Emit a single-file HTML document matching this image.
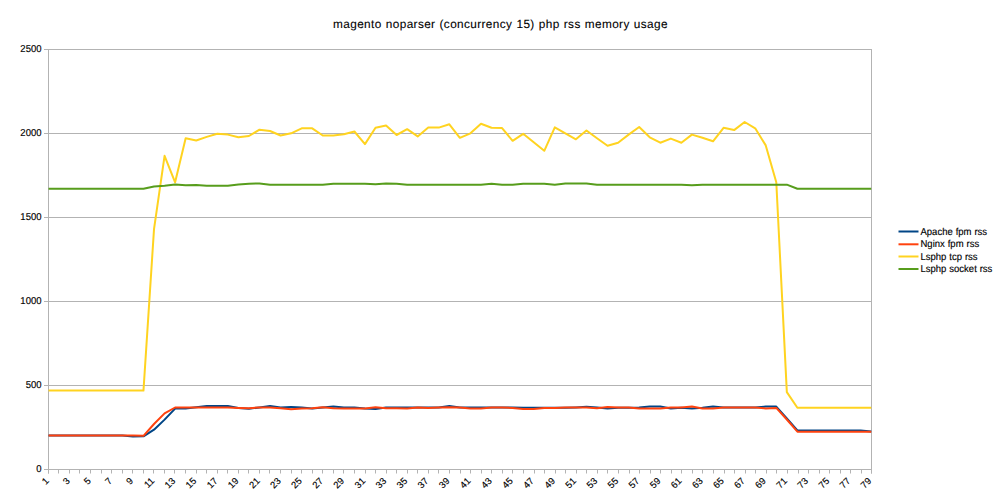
<!DOCTYPE html>
<html><head><meta charset="utf-8"><style>
html,body{margin:0;padding:0;background:#fff;width:1000px;height:500px;overflow:hidden}
svg{display:block}
text{font-family:"Liberation Sans",sans-serif;fill:#000;stroke:#000;stroke-width:0.15px}
</style></head><body>
<svg width="1000" height="500" viewBox="0 0 1000 500">
<rect width="1000" height="500" fill="#fff"/>
<text x="500.5" y="28" font-size="11.8" letter-spacing="0.38" word-spacing="0.5" text-anchor="middle" text-rendering="geometricPrecision" style="stroke-width:0.1px">magento noparser (concurrency 15) php rss memory usage</text>
<g stroke="#b3b3b3" stroke-width="1" fill="none">
<line x1="44" y1="469.5" x2="871.5" y2="469.5" /><line x1="44" y1="385.5" x2="871.5" y2="385.5" /><line x1="44" y1="301.5" x2="871.5" y2="301.5" /><line x1="44" y1="217.5" x2="871.5" y2="217.5" /><line x1="44" y1="133.5" x2="871.5" y2="133.5" /><line x1="44" y1="49.5" x2="871.5" y2="49.5" />
<line x1="48.5" y1="49" x2="48.5" y2="473.5" />
<line x1="871.5" y1="49" x2="871.5" y2="473.5" />
<line x1="48.5" y1="469.5" x2="48.5" y2="473.5" /><line x1="58.5" y1="469.5" x2="58.5" y2="473.5" /><line x1="69.5" y1="469.5" x2="69.5" y2="473.5" /><line x1="79.5" y1="469.5" x2="79.5" y2="473.5" /><line x1="90.5" y1="469.5" x2="90.5" y2="473.5" /><line x1="101.5" y1="469.5" x2="101.5" y2="473.5" /><line x1="111.5" y1="469.5" x2="111.5" y2="473.5" /><line x1="122.5" y1="469.5" x2="122.5" y2="473.5" /><line x1="132.5" y1="469.5" x2="132.5" y2="473.5" /><line x1="143.5" y1="469.5" x2="143.5" y2="473.5" /><line x1="153.5" y1="469.5" x2="153.5" y2="473.5" /><line x1="164.5" y1="469.5" x2="164.5" y2="473.5" /><line x1="174.5" y1="469.5" x2="174.5" y2="473.5" /><line x1="185.5" y1="469.5" x2="185.5" y2="473.5" /><line x1="196.5" y1="469.5" x2="196.5" y2="473.5" /><line x1="206.5" y1="469.5" x2="206.5" y2="473.5" /><line x1="217.5" y1="469.5" x2="217.5" y2="473.5" /><line x1="227.5" y1="469.5" x2="227.5" y2="473.5" /><line x1="238.5" y1="469.5" x2="238.5" y2="473.5" /><line x1="248.5" y1="469.5" x2="248.5" y2="473.5" /><line x1="259.5" y1="469.5" x2="259.5" y2="473.5" /><line x1="269.5" y1="469.5" x2="269.5" y2="473.5" /><line x1="280.5" y1="469.5" x2="280.5" y2="473.5" /><line x1="291.5" y1="469.5" x2="291.5" y2="473.5" /><line x1="301.5" y1="469.5" x2="301.5" y2="473.5" /><line x1="312.5" y1="469.5" x2="312.5" y2="473.5" /><line x1="322.5" y1="469.5" x2="322.5" y2="473.5" /><line x1="333.5" y1="469.5" x2="333.5" y2="473.5" /><line x1="343.5" y1="469.5" x2="343.5" y2="473.5" /><line x1="354.5" y1="469.5" x2="354.5" y2="473.5" /><line x1="365.5" y1="469.5" x2="365.5" y2="473.5" /><line x1="375.5" y1="469.5" x2="375.5" y2="473.5" /><line x1="386.5" y1="469.5" x2="386.5" y2="473.5" /><line x1="396.5" y1="469.5" x2="396.5" y2="473.5" /><line x1="407.5" y1="469.5" x2="407.5" y2="473.5" /><line x1="417.5" y1="469.5" x2="417.5" y2="473.5" /><line x1="428.5" y1="469.5" x2="428.5" y2="473.5" /><line x1="438.5" y1="469.5" x2="438.5" y2="473.5" /><line x1="449.5" y1="469.5" x2="449.5" y2="473.5" /><line x1="460.5" y1="469.5" x2="460.5" y2="473.5" /><line x1="470.5" y1="469.5" x2="470.5" y2="473.5" /><line x1="481.5" y1="469.5" x2="481.5" y2="473.5" /><line x1="491.5" y1="469.5" x2="491.5" y2="473.5" /><line x1="502.5" y1="469.5" x2="502.5" y2="473.5" /><line x1="512.5" y1="469.5" x2="512.5" y2="473.5" /><line x1="523.5" y1="469.5" x2="523.5" y2="473.5" /><line x1="534.5" y1="469.5" x2="534.5" y2="473.5" /><line x1="544.5" y1="469.5" x2="544.5" y2="473.5" /><line x1="555.5" y1="469.5" x2="555.5" y2="473.5" /><line x1="565.5" y1="469.5" x2="565.5" y2="473.5" /><line x1="576.5" y1="469.5" x2="576.5" y2="473.5" /><line x1="586.5" y1="469.5" x2="586.5" y2="473.5" /><line x1="597.5" y1="469.5" x2="597.5" y2="473.5" /><line x1="607.5" y1="469.5" x2="607.5" y2="473.5" /><line x1="618.5" y1="469.5" x2="618.5" y2="473.5" /><line x1="629.5" y1="469.5" x2="629.5" y2="473.5" /><line x1="639.5" y1="469.5" x2="639.5" y2="473.5" /><line x1="650.5" y1="469.5" x2="650.5" y2="473.5" /><line x1="660.5" y1="469.5" x2="660.5" y2="473.5" /><line x1="671.5" y1="469.5" x2="671.5" y2="473.5" /><line x1="681.5" y1="469.5" x2="681.5" y2="473.5" /><line x1="692.5" y1="469.5" x2="692.5" y2="473.5" /><line x1="702.5" y1="469.5" x2="702.5" y2="473.5" /><line x1="713.5" y1="469.5" x2="713.5" y2="473.5" /><line x1="724.5" y1="469.5" x2="724.5" y2="473.5" /><line x1="734.5" y1="469.5" x2="734.5" y2="473.5" /><line x1="745.5" y1="469.5" x2="745.5" y2="473.5" /><line x1="755.5" y1="469.5" x2="755.5" y2="473.5" /><line x1="766.5" y1="469.5" x2="766.5" y2="473.5" /><line x1="776.5" y1="469.5" x2="776.5" y2="473.5" /><line x1="787.5" y1="469.5" x2="787.5" y2="473.5" /><line x1="798.5" y1="469.5" x2="798.5" y2="473.5" /><line x1="808.5" y1="469.5" x2="808.5" y2="473.5" /><line x1="819.5" y1="469.5" x2="819.5" y2="473.5" /><line x1="829.5" y1="469.5" x2="829.5" y2="473.5" /><line x1="840.5" y1="469.5" x2="840.5" y2="473.5" /><line x1="850.5" y1="469.5" x2="850.5" y2="473.5" /><line x1="861.5" y1="469.5" x2="861.5" y2="473.5" /><line x1="871.5" y1="469.5" x2="871.5" y2="473.5" />
</g>
<g font-size="10" text-anchor="end" text-rendering="geometricPrecision">
<text transform="translate(41.5,472.3) scale(0.95,1)">0</text><text transform="translate(41.5,388.3) scale(0.95,1)">500</text><text transform="translate(41.5,304.3) scale(0.95,1)">1000</text><text transform="translate(41.5,220.3) scale(0.95,1)">1500</text><text transform="translate(41.5,136.3) scale(0.95,1)">2000</text><text transform="translate(41.5,52.3) scale(0.95,1)">2500</text>
</g>
<g font-size="9.5" text-anchor="end">
<text transform="translate(49.4,481.5) rotate(-45)" x="0" y="0">1</text><text transform="translate(70.5,481.5) rotate(-45)" x="0" y="0">3</text><text transform="translate(91.6,481.5) rotate(-45)" x="0" y="0">5</text><text transform="translate(112.7,481.5) rotate(-45)" x="0" y="0">7</text><text transform="translate(133.8,481.5) rotate(-45)" x="0" y="0">9</text><text transform="translate(154.9,481.5) rotate(-45)" x="0" y="0">11</text><text transform="translate(176.0,481.5) rotate(-45)" x="0" y="0">13</text><text transform="translate(197.1,481.5) rotate(-45)" x="0" y="0">15</text><text transform="translate(218.2,481.5) rotate(-45)" x="0" y="0">17</text><text transform="translate(239.3,481.5) rotate(-45)" x="0" y="0">19</text><text transform="translate(260.4,481.5) rotate(-45)" x="0" y="0">21</text><text transform="translate(281.5,481.5) rotate(-45)" x="0" y="0">23</text><text transform="translate(302.6,481.5) rotate(-45)" x="0" y="0">25</text><text transform="translate(323.7,481.5) rotate(-45)" x="0" y="0">27</text><text transform="translate(344.8,481.5) rotate(-45)" x="0" y="0">29</text><text transform="translate(365.9,481.5) rotate(-45)" x="0" y="0">31</text><text transform="translate(387.0,481.5) rotate(-45)" x="0" y="0">33</text><text transform="translate(408.0,481.5) rotate(-45)" x="0" y="0">35</text><text transform="translate(429.1,481.5) rotate(-45)" x="0" y="0">37</text><text transform="translate(450.2,481.5) rotate(-45)" x="0" y="0">39</text><text transform="translate(471.3,481.5) rotate(-45)" x="0" y="0">41</text><text transform="translate(492.4,481.5) rotate(-45)" x="0" y="0">43</text><text transform="translate(513.5,481.5) rotate(-45)" x="0" y="0">45</text><text transform="translate(534.6,481.5) rotate(-45)" x="0" y="0">47</text><text transform="translate(555.7,481.5) rotate(-45)" x="0" y="0">49</text><text transform="translate(576.8,481.5) rotate(-45)" x="0" y="0">51</text><text transform="translate(597.9,481.5) rotate(-45)" x="0" y="0">53</text><text transform="translate(619.0,481.5) rotate(-45)" x="0" y="0">55</text><text transform="translate(640.1,481.5) rotate(-45)" x="0" y="0">57</text><text transform="translate(661.2,481.5) rotate(-45)" x="0" y="0">59</text><text transform="translate(682.3,481.5) rotate(-45)" x="0" y="0">61</text><text transform="translate(703.4,481.5) rotate(-45)" x="0" y="0">63</text><text transform="translate(724.5,481.5) rotate(-45)" x="0" y="0">65</text><text transform="translate(745.6,481.5) rotate(-45)" x="0" y="0">67</text><text transform="translate(766.6,481.5) rotate(-45)" x="0" y="0">69</text><text transform="translate(787.7,481.5) rotate(-45)" x="0" y="0">71</text><text transform="translate(808.8,481.5) rotate(-45)" x="0" y="0">73</text><text transform="translate(829.9,481.5) rotate(-45)" x="0" y="0">75</text><text transform="translate(851.0,481.5) rotate(-45)" x="0" y="0">77</text><text transform="translate(872.1,481.5) rotate(-45)" x="0" y="0">79</text>
</g>
<g fill="none" stroke-width="2" stroke-linejoin="round">
<polyline stroke="#004586" points="48.55,435.40 59.10,435.40 69.64,435.40 80.19,435.40 90.74,435.40 101.28,435.40 111.83,435.40 122.38,435.40 132.93,436.50 143.47,436.30 154.02,429.70 164.57,419.60 175.11,408.60 185.66,408.60 196.21,407.20 206.75,406.10 217.30,406.10 227.85,406.10 238.40,408.10 248.94,408.80 259.49,407.40 270.04,406.10 280.58,407.40 291.13,407.10 301.68,407.60 312.23,408.60 322.77,407.40 333.32,406.40 343.87,407.40 354.41,407.40 364.96,408.40 375.51,409.10 386.05,407.60 396.60,407.40 407.15,407.40 417.70,407.40 428.24,407.60 438.79,407.40 449.34,406.10 459.88,407.40 470.43,407.40 480.98,407.40 491.52,407.40 502.07,407.40 512.62,407.40 523.16,407.80 533.71,407.80 544.26,407.80 554.81,407.80 565.35,407.80 575.90,407.40 586.45,406.80 596.99,407.40 607.54,408.60 618.09,407.80 628.63,407.80 639.18,407.40 649.73,406.60 660.28,406.60 670.82,408.40 681.37,407.80 691.92,408.60 702.46,407.80 713.01,406.40 723.56,407.40 734.11,407.60 744.65,407.60 755.20,407.40 765.75,406.60 776.29,406.60 786.84,418.50 797.39,430.40 807.93,430.40 818.48,430.40 829.03,430.40 839.58,430.40 850.12,430.40 860.67,430.40 871.22,431.60"/>
<polyline stroke="#ff420e" points="48.55,435.40 59.10,435.40 69.64,435.40 80.19,435.40 90.74,435.40 101.28,435.40 111.83,435.40 122.38,435.40 132.93,435.40 143.47,435.80 154.02,424.00 164.57,413.40 175.11,407.50 185.66,407.50 196.21,407.50 206.75,407.60 217.30,407.40 227.85,407.40 238.40,407.90 248.94,408.20 259.49,407.40 270.04,407.40 280.58,408.20 291.13,409.20 301.68,408.60 312.23,408.20 322.77,407.20 333.32,408.20 343.87,408.60 354.41,408.60 364.96,408.60 375.51,407.20 386.05,408.20 396.60,408.20 407.15,408.60 417.70,407.60 428.24,407.90 438.79,407.60 449.34,407.20 459.88,407.60 470.43,408.60 480.98,408.40 491.52,407.60 502.07,407.60 512.62,407.90 523.16,408.90 533.71,408.90 544.26,407.90 554.81,407.90 565.35,407.60 575.90,407.60 586.45,407.60 596.99,408.20 607.54,406.90 618.09,407.60 628.63,407.60 639.18,408.60 649.73,408.60 660.28,408.60 670.82,407.60 681.37,407.60 691.92,406.60 702.46,408.60 713.01,408.60 723.56,407.60 734.11,407.60 744.65,407.60 755.20,407.60 765.75,408.40 776.29,407.90 786.84,419.50 797.39,431.70 807.93,431.70 818.48,431.70 829.03,431.70 839.58,431.70 850.12,431.70 860.67,431.70 871.22,431.70"/>
<polyline stroke="#ffd320" points="48.55,390.60 59.10,390.60 69.64,390.60 80.19,390.60 90.74,390.60 101.28,390.60 111.83,390.60 122.38,390.60 132.93,390.60 143.47,390.60 154.02,229.10 164.57,155.80 175.11,182.30 185.66,138.20 196.21,140.50 206.75,136.90 217.30,133.70 227.85,134.60 238.40,137.30 248.94,136.00 259.49,129.70 270.04,131.00 280.58,135.50 291.13,133.30 301.68,128.30 312.23,128.30 322.77,135.50 333.32,135.50 343.87,134.20 354.41,131.50 364.96,144.10 375.51,127.80 386.05,125.60 396.60,135.00 407.15,129.20 417.70,136.40 428.24,127.60 438.79,127.60 449.34,124.30 459.88,137.80 470.43,133.30 480.98,123.80 491.52,127.80 502.07,128.10 512.62,140.80 523.16,133.80 533.71,142.30 544.26,150.80 554.81,127.30 565.35,133.30 575.90,139.30 586.45,130.50 596.99,138.20 607.54,145.80 618.09,142.70 628.63,134.60 639.18,127.00 649.73,137.30 660.28,142.70 670.82,138.60 681.37,142.70 691.92,134.60 702.46,137.70 713.01,141.30 723.56,127.80 734.11,130.10 744.65,122.00 755.20,128.30 765.75,145.40 776.29,182.30 786.84,392.10 797.39,407.80 807.93,407.80 818.48,407.80 829.03,407.80 839.58,407.80 850.12,407.80 860.67,407.80 871.22,407.80"/>
<polyline stroke="#579d1c" points="48.55,188.75 59.10,188.75 69.64,188.75 80.19,188.75 90.74,188.75 101.28,188.75 111.83,188.75 122.38,188.75 132.93,188.75 143.47,188.75 154.02,186.45 164.57,185.65 175.11,184.45 185.66,185.25 196.21,185.05 206.75,185.65 217.30,185.65 227.85,185.65 238.40,184.45 248.94,183.65 259.49,183.55 270.04,184.65 280.58,184.65 291.13,184.65 301.68,184.65 312.23,184.65 322.77,184.65 333.32,183.75 343.87,183.75 354.41,183.75 364.96,183.75 375.51,184.25 386.05,183.55 396.60,183.75 407.15,184.65 417.70,184.65 428.24,184.65 438.79,184.65 449.34,184.65 459.88,184.65 470.43,184.65 480.98,184.65 491.52,183.85 502.07,184.65 512.62,184.65 523.16,183.75 533.71,183.75 544.26,183.75 554.81,184.65 565.35,183.55 575.90,183.55 586.45,183.55 596.99,184.65 607.54,184.65 618.09,184.65 628.63,184.65 639.18,184.65 649.73,184.65 660.28,184.65 670.82,184.65 681.37,184.65 691.92,185.35 702.46,184.65 713.01,184.65 723.56,184.65 734.11,184.65 744.65,184.65 755.20,184.65 765.75,184.65 776.29,184.65 786.84,184.65 797.39,188.75 807.93,188.75 818.48,188.75 829.03,188.75 839.58,188.75 850.12,188.75 860.67,188.75 871.22,188.75"/>
</g>
<g stroke-width="2">
<line x1="898.5" y1="231.5" x2="918.5" y2="231.5" stroke="#004586"/>
<line x1="898.5" y1="244.3" x2="918.5" y2="244.3" stroke="#ff420e"/>
<line x1="898.5" y1="256.5" x2="918.5" y2="256.5" stroke="#ffd320"/>
<line x1="898.5" y1="269" x2="918.5" y2="269" stroke="#579d1c"/>
</g>
<g font-size="10" word-spacing="0.3" text-rendering="geometricPrecision" transform="translate(920.5,0) scale(0.95,1)">
<text x="0" y="234.5">Apache fpm rss</text>
<text x="0" y="247">Nginx fpm rss</text>
<text x="0" y="259.5">Lsphp tcp rss</text>
<text x="0" y="272">Lsphp socket rss</text>
</g>
</svg>
</body></html>
